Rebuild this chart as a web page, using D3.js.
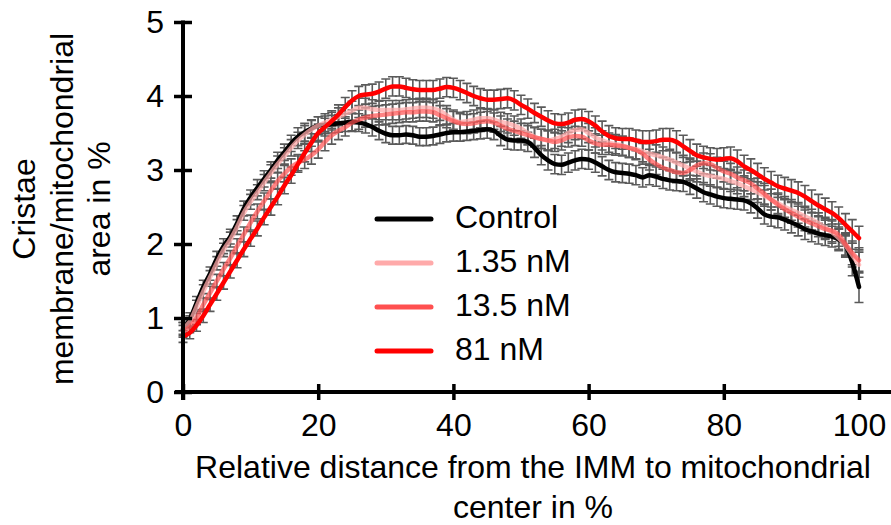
<!DOCTYPE html>
<html>
<head>
<meta charset="utf-8">
<script src="https://cdn.jsdelivr.net/npm/d3@7"></script>
<style>
  body { margin: 0; background: #fff; }
  text { font-family: "Liberation Sans", Arial, sans-serif; fill: #000; }
</style>
</head>
<body>
<script>
// Cristae membrane profile, control vs. three concentrations
const distance = d3.range(0, 101); // 0..100 %

const controlVals = [
  0.85, 0.98, 1.2, 1.42, 1.6, 1.8, 1.97, 2.1, 2.28, 2.48,
  2.63, 2.76, 2.88, 3.0, 3.13, 3.24, 3.36, 3.45, 3.51, 3.56,
  3.6, 3.61, 3.62, 3.63, 3.64, 3.65, 3.64, 3.62, 3.58, 3.53,
  3.49, 3.47, 3.47, 3.48, 3.47, 3.45, 3.45, 3.46, 3.48, 3.5,
  3.51, 3.51, 3.52, 3.53, 3.54, 3.55, 3.53, 3.46, 3.41, 3.4,
  3.4, 3.38, 3.3, 3.2, 3.13, 3.08, 3.07, 3.1, 3.13, 3.15,
  3.14, 3.1, 3.05, 3.0, 2.97, 2.96, 2.95, 2.93, 2.9, 2.93,
  2.91, 2.88, 2.86, 2.85, 2.84, 2.8, 2.75, 2.7, 2.67, 2.64,
  2.62, 2.61, 2.6, 2.59, 2.55, 2.48, 2.4, 2.37, 2.36, 2.33,
  2.29, 2.25, 2.2, 2.17, 2.14, 2.12, 2.1, 2.06, 1.98, 1.75,
  1.42
];
const nM135Vals = [
  0.86, 0.95, 1.15, 1.36, 1.55, 1.74, 1.92, 2.06, 2.23, 2.42,
  2.57, 2.7, 2.83, 2.96, 3.08, 3.19, 3.3, 3.4, 3.48, 3.55,
  3.6, 3.64, 3.68, 3.72, 3.76, 3.8, 3.84, 3.84, 3.82, 3.81,
  3.81, 3.81, 3.81, 3.82, 3.83, 3.84, 3.84, 3.83, 3.8, 3.74,
  3.68, 3.65, 3.66, 3.68, 3.7, 3.7, 3.68, 3.65, 3.63, 3.6,
  3.56, 3.5, 3.45, 3.42, 3.4, 3.42, 3.45, 3.5, 3.54, 3.55,
  3.5, 3.44, 3.4, 3.37, 3.35, 3.33, 3.3, 3.28, 3.25, 3.22,
  3.2, 3.17, 3.14, 3.1, 3.06, 3.02, 2.98, 2.94, 2.92, 2.9,
  2.88, 2.85, 2.82, 2.78, 2.74, 2.7, 2.65, 2.6, 2.55, 2.5,
  2.46, 2.42, 2.37, 2.33, 2.28, 2.22, 2.16, 2.08, 1.98, 1.85,
  1.72
];
const nM13_5Vals = [
  0.82, 0.88, 1.0, 1.18, 1.34, 1.5, 1.66, 1.81, 1.97, 2.13,
  2.29, 2.44, 2.58, 2.72, 2.85, 2.95, 3.04, 3.1, 3.14, 3.2,
  3.28, 3.38, 3.47, 3.53, 3.58, 3.64, 3.68, 3.71, 3.73, 3.74,
  3.75, 3.76, 3.77, 3.78, 3.78, 3.79, 3.79, 3.78, 3.74, 3.7,
  3.66, 3.63, 3.62, 3.63, 3.65, 3.66, 3.64, 3.6, 3.56, 3.53,
  3.5, 3.47, 3.44, 3.42, 3.4, 3.38, 3.4, 3.44, 3.46, 3.45,
  3.4, 3.36, 3.34, 3.34, 3.33, 3.32, 3.3, 3.27, 3.22, 3.14,
  3.08, 3.03, 3.0, 2.97, 2.96, 3.0, 3.06, 3.09, 3.08, 3.03,
  2.98, 2.95, 2.9, 2.86, 2.82, 2.75, 2.68, 2.6, 2.53, 2.47,
  2.42, 2.37, 2.32, 2.28, 2.24, 2.2, 2.18, 2.12, 2.0, 1.88,
  1.78
];
const nM81Vals = [
  0.75, 0.8, 0.9, 1.03, 1.18, 1.33, 1.48, 1.63, 1.78, 1.93,
  2.07, 2.21, 2.36, 2.5, 2.64, 2.79, 2.93, 3.08, 3.23, 3.37,
  3.5, 3.58, 3.66, 3.75, 3.85, 3.94, 4.0, 4.02, 4.03, 4.06,
  4.1, 4.13, 4.13, 4.11, 4.09, 4.08, 4.08, 4.08, 4.1, 4.12,
  4.11, 4.08, 4.04, 4.0, 3.97, 3.95, 3.95, 3.96, 3.97, 3.94,
  3.88, 3.83, 3.77, 3.72, 3.67, 3.63, 3.62, 3.64, 3.68, 3.69,
  3.66, 3.6, 3.52, 3.46, 3.43, 3.42, 3.42, 3.4, 3.38, 3.38,
  3.39, 3.41, 3.41, 3.38, 3.32, 3.26, 3.2, 3.17, 3.15, 3.14,
  3.15, 3.16, 3.12, 3.05, 3.0, 2.94, 2.88, 2.83, 2.78, 2.75,
  2.72, 2.69, 2.64, 2.58, 2.52, 2.47, 2.42, 2.35, 2.26, 2.17,
  2.08
];

// standard errors
const controlErr = [
  0.09, 0.09, 0.09, 0.09, 0.09, 0.1, 0.1, 0.1, 0.1, 0.1,
  0.1, 0.11, 0.11, 0.11, 0.11, 0.11, 0.11, 0.12, 0.12, 0.12,
  0.12, 0.12, 0.12, 0.12, 0.12, 0.12, 0.12, 0.12, 0.12, 0.12,
  0.12, 0.12, 0.12, 0.12, 0.12, 0.12, 0.12, 0.12, 0.12, 0.12,
  0.12, 0.12, 0.12, 0.12, 0.12, 0.12, 0.12, 0.13, 0.13, 0.13,
  0.13, 0.13, 0.13, 0.13, 0.13, 0.13, 0.13, 0.13, 0.13, 0.13,
  0.13, 0.13, 0.13, 0.13, 0.13, 0.13, 0.13, 0.13, 0.13, 0.13,
  0.13, 0.13, 0.13, 0.13, 0.13, 0.13, 0.13, 0.13, 0.13, 0.13,
  0.13, 0.13, 0.13, 0.13, 0.13, 0.13, 0.13, 0.13, 0.14, 0.14,
  0.14, 0.14, 0.14, 0.14, 0.14, 0.14, 0.14, 0.15, 0.16, 0.18,
  0.21
];
const nM135Err = [
  0.08, 0.08, 0.09, 0.09, 0.09, 0.09, 0.09, 0.1, 0.1, 0.1,
  0.1, 0.1, 0.11, 0.11, 0.11, 0.11, 0.11, 0.11, 0.12, 0.12,
  0.12, 0.12, 0.12, 0.12, 0.12, 0.13, 0.13, 0.13, 0.13, 0.13,
  0.13, 0.13, 0.13, 0.13, 0.13, 0.13, 0.13, 0.13, 0.13, 0.13,
  0.13, 0.13, 0.13, 0.13, 0.13, 0.13, 0.13, 0.13, 0.13, 0.13,
  0.13, 0.13, 0.13, 0.13, 0.13, 0.13, 0.13, 0.13, 0.13, 0.13,
  0.13, 0.13, 0.13, 0.13, 0.13, 0.13, 0.13, 0.13, 0.14, 0.14,
  0.14, 0.14, 0.14, 0.14, 0.14, 0.14, 0.14, 0.14, 0.14, 0.14,
  0.14, 0.14, 0.14, 0.14, 0.14, 0.14, 0.14, 0.14, 0.14, 0.14,
  0.14, 0.14, 0.14, 0.14, 0.14, 0.14, 0.15, 0.15, 0.15, 0.16,
  0.17
];
const nM13_5Err = [
  0.08, 0.08, 0.09, 0.09, 0.09, 0.09, 0.09, 0.1, 0.1, 0.1,
  0.1, 0.1, 0.11, 0.11, 0.11, 0.11, 0.11, 0.11, 0.12, 0.12,
  0.12, 0.12, 0.12, 0.12, 0.12, 0.12, 0.13, 0.13, 0.13, 0.13,
  0.13, 0.13, 0.13, 0.13, 0.13, 0.13, 0.13, 0.13, 0.13, 0.13,
  0.13, 0.13, 0.13, 0.13, 0.13, 0.13, 0.13, 0.13, 0.13, 0.13,
  0.13, 0.13, 0.13, 0.13, 0.13, 0.13, 0.13, 0.13, 0.13, 0.13,
  0.13, 0.13, 0.13, 0.13, 0.13, 0.13, 0.13, 0.13, 0.14, 0.14,
  0.14, 0.14, 0.14, 0.14, 0.14, 0.14, 0.14, 0.14, 0.14, 0.14,
  0.14, 0.14, 0.14, 0.14, 0.14, 0.14, 0.14, 0.14, 0.14, 0.14,
  0.14, 0.14, 0.14, 0.14, 0.14, 0.14, 0.15, 0.15, 0.15, 0.16,
  0.17
];
const nM81Err = [
  0.08, 0.08, 0.08, 0.09, 0.09, 0.09, 0.09, 0.09, 0.1, 0.1,
  0.1, 0.1, 0.1, 0.11, 0.11, 0.11, 0.11, 0.11, 0.12, 0.12,
  0.12, 0.12, 0.12, 0.13, 0.13, 0.13, 0.13, 0.13, 0.13, 0.13,
  0.13, 0.13, 0.13, 0.13, 0.13, 0.13, 0.13, 0.13, 0.13, 0.13,
  0.13, 0.13, 0.13, 0.13, 0.13, 0.13, 0.13, 0.13, 0.13, 0.13,
  0.13, 0.13, 0.13, 0.13, 0.13, 0.13, 0.13, 0.13, 0.13, 0.13,
  0.13, 0.13, 0.14, 0.14, 0.14, 0.14, 0.14, 0.14, 0.15, 0.15,
  0.15, 0.15, 0.15, 0.15, 0.15, 0.15, 0.15, 0.15, 0.15, 0.15,
  0.15, 0.15, 0.15, 0.15, 0.15, 0.15, 0.15, 0.15, 0.15, 0.15,
  0.15, 0.15, 0.15, 0.15, 0.15, 0.15, 0.15, 0.15, 0.15, 0.16,
  0.16
];

const seriesNames = ["Control", "1.35 nM", "13.5 nM", "81 nM"];
const seriesColors = ["#000000", "#ffaaaa", "#ff5050", "#ff0000"];
const seriesOpacity = [1, 0.75, 0.7, 1];
const seriesVals = [controlVals, nM135Vals, nM13_5Vals, nM81Vals];
const seriesErr = [controlErr, nM135Err, nM13_5Err, nM81Err];

const xTicks = [0, 20, 40, 60, 80, 100];
const yTicks = [0, 1, 2, 3, 4, 5];

const width = 891, height = 525;
const margin = { left: 183, right: 32, top: 22, bottom: 133 };
const fontSize = "32px";

const svg = d3.select("body").append("svg")
  .attr("width", width)
  .attr("height", height);

const x = d3.scaleLinear().domain([0, 100]).range([margin.left, width - margin.right]);
const y = d3.scaleLinear().domain([0, 5]).range([height - margin.bottom, margin.top]);

const series = seriesNames.map((name, i) => ({
  name,
  color: seriesColors[i],
  opacity: seriesOpacity[i],
  points: distance.map((d, j) => ({ x: d, v: seriesVals[i][j], e: seriesErr[i][j] }))
}));

// error bars first, lines go over them
const capW = 4.5;
const errG = svg.append("g")
  .attr("stroke", "#5a5a5a")
  .attr("stroke-width", 1.6)
  .attr("fill", "none");

series.forEach(s => {
  const g = errG.append("g");
  g.selectAll("path")
    .data(s.points)
    .enter()
    .append("path")
    .attr("d", p => {
      const cx = x(p.x), y0 = y(p.v - p.e), y1 = y(p.v + p.e);
      return `M${cx},${y0}V${y1}M${cx - capW},${y0}H${cx + capW}M${cx - capW},${y1}H${cx + capW}`;
    });
});

const line = d3.line()
  .x(p => x(p.x))
  .y(p => y(p.v))
  .curve(d3.curveMonotoneX);

svg.append("g").selectAll("path.series")
  .data(series)
  .enter()
  .append("path")
  .attr("class", "series")
  .attr("fill", "none")
  .attr("stroke", s => s.color)
  .attr("stroke-opacity", s => s.opacity)
  .attr("stroke-width", 4.5)
  .attr("stroke-linejoin", "round")
  .attr("stroke-linecap", "round")
  .attr("d", s => line(s.points));

// axes
const yAxis = svg.append("g")
  .attr("transform", `translate(${margin.left},0)`)
  .call(d3.axisLeft(y).tickValues(yTicks).tickFormat(d3.format("d")).tickSize(9).tickPadding(10));
const xAxis = svg.append("g")
  .attr("transform", `translate(0,${y(0)})`)
  .call(d3.axisBottom(x).tickValues(xTicks).tickFormat(d3.format("d")).tickSize(8).tickPadding(13));

[yAxis, xAxis].forEach(a => {
  a.select(".domain").remove();
  a.selectAll(".tick line").attr("stroke", "#000").attr("stroke-width", 3.5);
  a.selectAll(".tick text").style("font-size", fontSize).style("font-family", "Liberation Sans, Arial, sans-serif");
});
yAxis.selectAll(".tick line").attr("x1", 9);
xAxis.selectAll(".tick line").attr("y1", -8);

svg.append("line")
  .attr("x1", margin.left).attr("x2", margin.left)
  .attr("y1", y(5) - 1.5).attr("y2", y(0) + 8)
  .attr("stroke", "#000").attr("stroke-width", 4);
svg.append("line")
  .attr("x1", margin.left - 8).attr("x2", width)
  .attr("y1", y(0)).attr("y2", y(0))
  .attr("stroke", "#000").attr("stroke-width", 4);

// axis titles
const xTitle = svg.append("text")
  .attr("text-anchor", "middle")
  .style("font-size", fontSize);
xTitle.append("tspan").attr("x", 533).attr("y", 478).text("Relative distance from the IMM to mitochondrial");
xTitle.append("tspan").attr("x", 533).attr("y", 518).text("center in %");

const yTitleLines = ["Cristae", "membrane/mitochondrial", "area in %"];
svg.append("g")
  .attr("transform", "translate(35,209) rotate(-90)")
  .selectAll("text")
  .data(yTitleLines)
  .enter()
  .append("text")
  .attr("text-anchor", "middle")
  .attr("x", 0)
  .attr("y", (d, i) => i * 37.5)
  .style("font-size", fontSize)
  .text(d => d);

// legend
const legend = svg.append("g").attr("transform", "translate(377,219)");
const item = legend.selectAll("g")
  .data(series)
  .enter()
  .append("g")
  .attr("transform", (d, i) => `translate(0,${i * 44})`);
item.append("line")
  .attr("x1", 0).attr("x2", 54)
  .attr("stroke", s => s.color)
  .attr("stroke-width", 5)
  .attr("stroke-linecap", "round");
item.append("text")
  .attr("x", 78)
  .attr("y", 9)
  .style("font-size", fontSize)
  .text(s => s.name);
</script>
</body>
</html>
